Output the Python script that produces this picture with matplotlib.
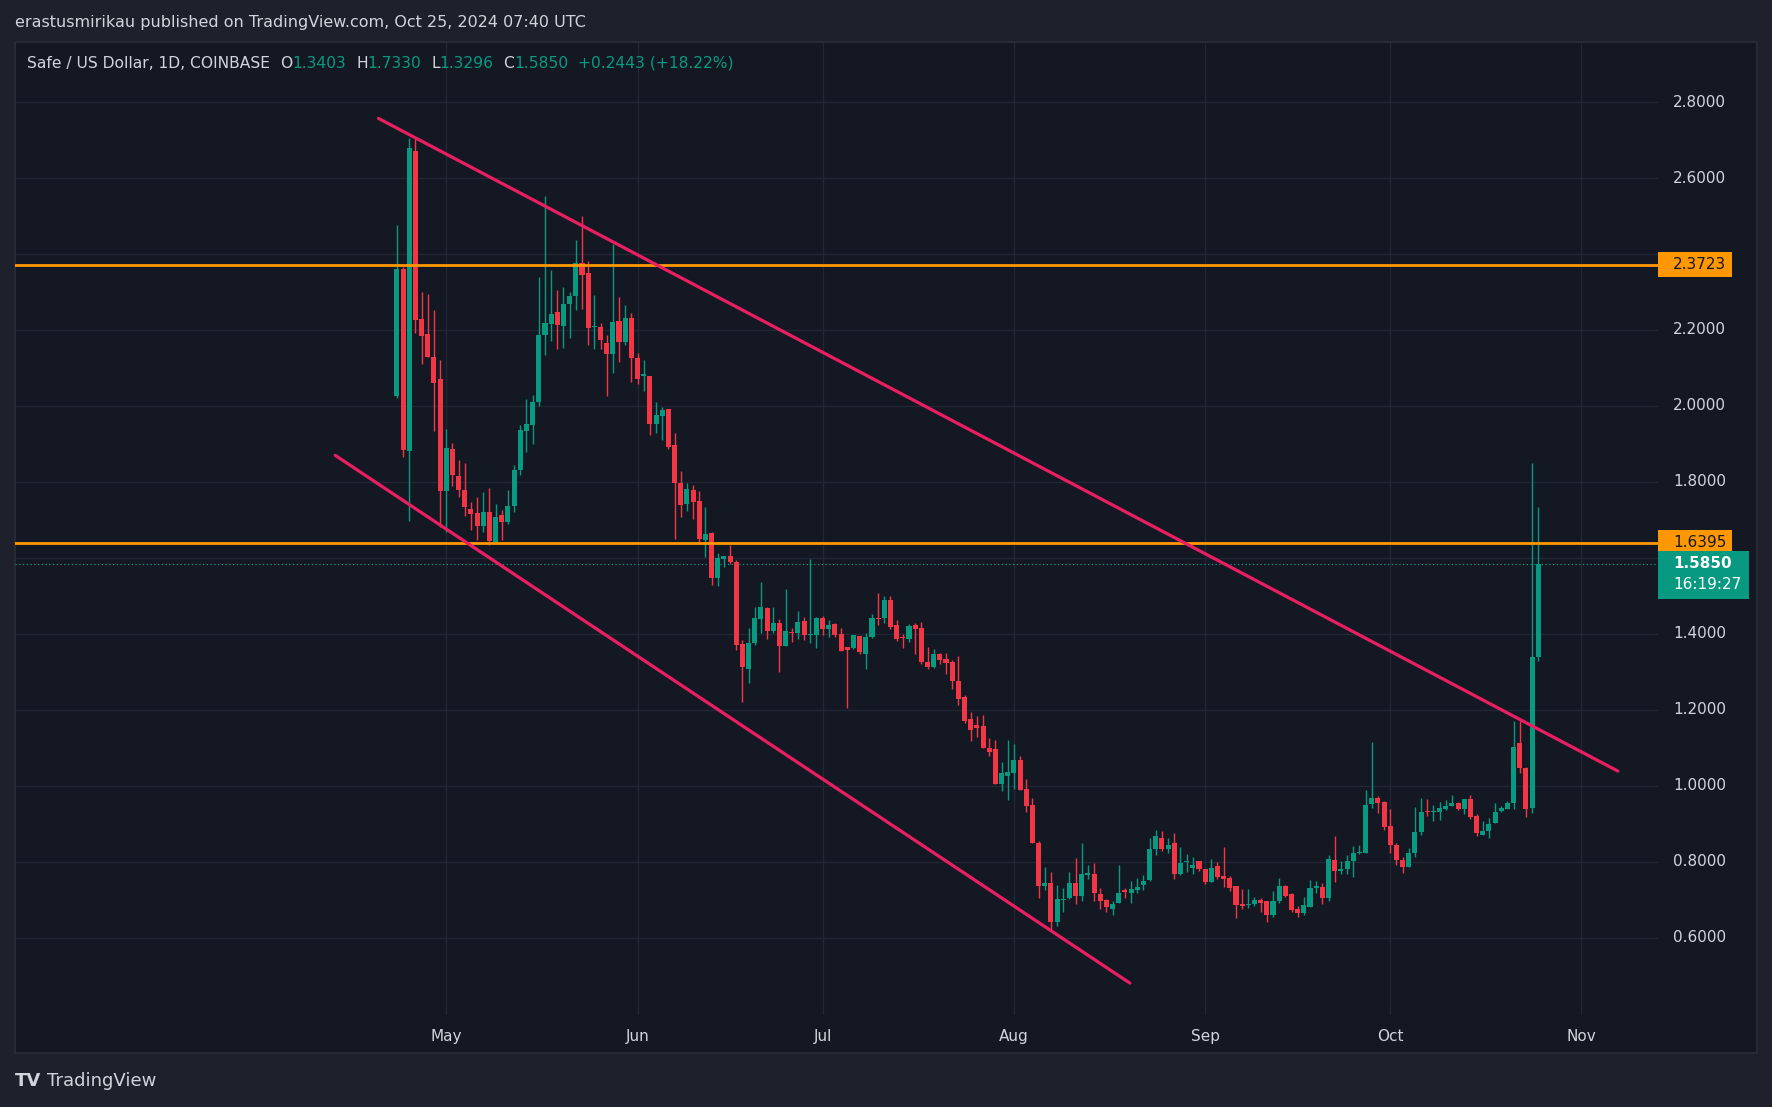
import matplotlib
matplotlib.use("Agg")
import matplotlib.pyplot as plt
import matplotlib.dates as mdates
from matplotlib.patches import Rectangle
import numpy as np
import pandas as pd

# ---------------- data ----------------
dates = pd.date_range("2024-04-23", "2024-10-25", freq="D")

opens = [2.027, 2.36, 1.882, 2.671, 2.229, 2.189, 2.13, 2.071,
         1.777, 1.887, 1.816, 1.779, 1.729, 1.718, 1.685, 1.72, 1.643, 1.713, 1.695, 1.737, 1.831, 1.935, 1.951, 2.01,
         2.187, 2.216, 2.247, 2.211, 2.268, 2.29, 2.376, 2.35, 2.207, 2.208, 2.166, 2.137, 2.223, 2.168, 2.231,
         2.125, 2.078, 2.079, 1.953, 1.974, 1.992, 1.897, 1.798, 1.743, 1.779, 1.75, 1.648, 1.666, 1.548, 1.596,
         1.605, 1.589, 1.374, 1.309, 1.376, 1.438, 1.468, 1.409, 1.429, 1.367, 1.405, 1.403, 1.433, 1.398, 1.396,
         1.442, 1.414, 1.426, 1.4, 1.366, 1.363, 1.394, 1.348, 1.392, 1.442, 1.443, 1.49, 1.424, 1.392, 1.387,
         1.424, 1.416, 1.326, 1.314, 1.347, 1.333, 1.325, 1.275, 1.234, 1.176, 1.16, 1.158, 1.101, 1.097, 1.006,
         1.027, 1.034, 1.068, 0.992, 0.95, 0.851, 0.737, 0.745, 0.642, 0.7, 0.706, 0.745, 0.71, 0.766, 0.768,
         0.715, 0.699, 0.675, 0.693, 0.725, 0.717, 0.726, 0.74, 0.753, 0.835, 0.864, 0.835, 0.849, 0.769, 0.8,
         0.785, 0.802, 0.782, 0.748, 0.789, 0.763, 0.757, 0.737, 0.687, 0.687, 0.689, 0.7, 0.696, 0.659, 0.696,
         0.736, 0.716, 0.676, 0.666, 0.68, 0.73, 0.733, 0.704, 0.805, 0.775, 0.78, 0.803, 0.824, 0.824, 0.953,
         0.968, 0.958, 0.895, 0.845, 0.805, 0.787, 0.824, 0.879, 0.934, 0.93, 0.93, 0.94, 0.946, 0.954, 0.94,
         0.966, 0.921, 0.872, 0.882, 0.903, 0.935, 0.938, 0.954, 1.113, 1.048, 0.942, 1.3403]
highs = [2.476, 2.367, 2.705, 2.703, 2.299, 2.295, 2.253, 2.121,
         1.939, 1.902, 1.858, 1.85, 1.746, 1.76, 1.773, 1.784, 1.742, 1.726, 1.779, 1.845, 1.949, 2.019, 2.028, 2.339,
         2.552, 2.358, 2.304, 2.313, 2.3, 2.436, 2.5, 2.381, 2.291, 2.218, 2.188, 2.427, 2.286, 2.265, 2.245,
         2.139, 2.12, 2.079, 2.01, 1.997, 1.992, 1.93, 1.829, 1.797, 1.792, 1.776, 1.734, 1.668, 1.613, 1.605,
         1.633, 1.595, 1.384, 1.416, 1.471, 1.537, 1.471, 1.471, 1.438, 1.518, 1.416, 1.46, 1.445, 1.597, 1.445,
         1.447, 1.437, 1.429, 1.416, 1.366, 1.397, 1.394, 1.403, 1.453, 1.508, 1.5, 1.5, 1.437, 1.4, 1.426,
         1.43, 1.432, 1.366, 1.36, 1.349, 1.349, 1.332, 1.342, 1.239, 1.195, 1.184, 1.187, 1.126, 1.121, 1.063,
         1.121, 1.11, 1.079, 1.018, 0.968, 0.855, 0.787, 0.774, 0.738, 0.732, 0.773, 0.81, 0.849, 0.791, 0.796,
         0.732, 0.702, 0.697, 0.792, 0.73, 0.749, 0.758, 0.765, 0.864, 0.885, 0.88, 0.864, 0.875, 0.839, 0.82,
         0.814, 0.802, 0.782, 0.807, 0.8, 0.839, 0.763, 0.737, 0.729, 0.729, 0.707, 0.705, 0.696, 0.724, 0.758,
         0.738, 0.718, 0.684, 0.708, 0.753, 0.75, 0.745, 0.818, 0.868, 0.803, 0.818, 0.842, 0.845, 0.989, 1.116,
         0.974, 0.96, 0.94, 0.85, 0.813, 0.837, 0.945, 0.968, 0.966, 0.949, 0.958, 0.962, 0.976, 0.958, 0.966,
         0.975, 0.925, 0.908, 0.916, 0.954, 0.947, 0.961, 1.171, 1.17, 1.05, 1.85, 1.7330]
lows = [2.02, 1.865, 1.696, 2.192, 2.11, 2.128, 1.935, 1.681,
        1.667, 1.79, 1.76, 1.711, 1.674, 1.646, 1.667, 1.635, 1.638, 1.646, 1.69, 1.72, 1.818, 1.879, 1.901, 2.0,
        2.135, 2.172, 2.151, 2.152, 2.18, 2.253, 2.256, 2.161, 2.151, 2.151, 2.025, 2.087, 2.117, 2.16, 2.064,
        2.059, 2.04, 1.924, 1.93, 1.911, 1.888, 1.651, 1.708, 1.724, 1.703, 1.64, 1.603, 1.53, 1.526, 1.577,
        1.583, 1.359, 1.222, 1.272, 1.37, 1.403, 1.387, 1.403, 1.301, 1.367, 1.38, 1.387, 1.384, 1.376, 1.363,
        1.398, 1.393, 1.393, 1.356, 1.204, 1.36, 1.348, 1.309, 1.389, 1.424, 1.43, 1.412, 1.382, 1.364, 1.38,
        1.346, 1.321, 1.308, 1.311, 1.321, 1.295, 1.256, 1.213, 1.165, 1.119, 1.13, 1.101, 1.08, 1.006, 0.987,
        0.963, 0.992, 0.988, 0.932, 0.851, 0.706, 0.725, 0.621, 0.63, 0.668, 0.702, 0.69, 0.696, 0.754, 0.696,
        0.677, 0.667, 0.661, 0.693, 0.706, 0.693, 0.718, 0.726, 0.75, 0.818, 0.829, 0.824, 0.754, 0.766, 0.774,
        0.769, 0.776, 0.741, 0.748, 0.756, 0.735, 0.724, 0.653, 0.676, 0.679, 0.685, 0.669, 0.643, 0.654, 0.692,
        0.707, 0.669, 0.654, 0.66, 0.68, 0.719, 0.69, 0.696, 0.748, 0.767, 0.767, 0.761, 0.821, 0.824, 0.942,
        0.929, 0.885, 0.824, 0.792, 0.771, 0.787, 0.813, 0.87, 0.92, 0.907, 0.91, 0.936, 0.946, 0.936, 0.927,
        0.914, 0.868, 0.872, 0.864, 0.903, 0.93, 0.938, 0.938, 1.035, 0.917, 0.929, 1.3296]
closes = [2.36, 1.885, 2.68, 2.227, 2.185, 2.13, 2.061, 1.777,
          1.889, 1.817, 1.779, 1.735, 1.716, 1.685, 1.72, 1.645, 1.707, 1.695, 1.737, 1.831, 1.938, 1.953, 2.01, 2.187,
          2.218, 2.242, 2.214, 2.268, 2.289, 2.376, 2.345, 2.206, 2.21, 2.174, 2.137, 2.221, 2.168, 2.231, 2.127,
          2.072, 2.083, 1.953, 1.976, 1.99, 1.893, 1.798, 1.74, 1.782, 1.746, 1.651, 1.663, 1.546, 1.6, 1.605,
          1.589, 1.372, 1.314, 1.375, 1.442, 1.471, 1.409, 1.429, 1.367, 1.408, 1.402, 1.432, 1.396, 1.4, 1.442,
          1.414, 1.424, 1.398, 1.356, 1.359, 1.397, 1.353, 1.392, 1.442, 1.44, 1.49, 1.419, 1.387, 1.39, 1.421,
          1.413, 1.325, 1.314, 1.347, 1.332, 1.324, 1.275, 1.23, 1.172, 1.146, 1.153, 1.101, 1.088, 1.006, 1.034,
          1.037, 1.068, 0.988, 0.948, 0.851, 0.737, 0.745, 0.643, 0.703, 0.702, 0.745, 0.71, 0.768, 0.77, 0.717,
          0.697, 0.68, 0.688, 0.718, 0.722, 0.728, 0.734, 0.75, 0.833, 0.868, 0.833, 0.844, 0.769, 0.797, 0.802,
          0.792, 0.782, 0.748, 0.783, 0.761, 0.756, 0.73, 0.686, 0.685, 0.69, 0.7, 0.692, 0.66, 0.697, 0.736,
          0.711, 0.674, 0.666, 0.687, 0.732, 0.737, 0.704, 0.808, 0.775, 0.782, 0.803, 0.824, 0.826, 0.95, 0.968,
          0.955, 0.892, 0.845, 0.805, 0.787, 0.824, 0.879, 0.932, 0.93, 0.932, 0.942, 0.947, 0.954, 0.94, 0.966,
          0.917, 0.875, 0.882, 0.9, 0.932, 0.942, 0.955, 1.103, 1.048, 0.938, 1.34, 1.5850]

# horizontal levels and channel lines (days relative to 2024-05-01, price)
levels = [2.3723, 1.6395]
last_price = 1.5850
countdown = "16:19:27"
upper_x = [-11.0, 189.9]
upper_y = [2.757, 1.039]
lower_x = [-18.0, 110.8]
lower_y = [1.870, 0.481]
price_ticks = [0.6, 0.8, 1.0, 1.2, 1.4, 1.6, 1.8, 2.0, 2.2, 2.4, 2.6, 2.8]
month_ticks = ["2024-05-01", "2024-06-01", "2024-07-01", "2024-08-01",
               "2024-09-01", "2024-10-01", "2024-11-01"]

# ---------------- style ----------------
W, H = 1772, 1107
OUTER = "#1e212b"
CHART = "#141823"
GRID = "#232733"
TXT = "#d1d4dc"
UP = "#089981"
DN = "#f23645"
ORANGE = "#ff9800"
PINK = "#e91e63"

def fx(px):
    return px / W

def fy(py):
    return 1 - py / H

fig = plt.figure(figsize=(W / 100, H / 100), dpi=100, facecolor=OUTER)

# chart panel (behind everything)
fig.patches.append(Rectangle((fx(15), fy(1053)), (1757 - 15) / W, (1053 - 42) / H,
                             transform=fig.transFigure, facecolor=CHART,
                             edgecolor="#2a2e39", linewidth=1.2, zorder=-10))

ax_l, ax_r, ax_t, ax_b = 15, 1658, 42, 1015
ax = fig.add_axes([fx(ax_l), fy(ax_b), (ax_r - ax_l) / W, (ax_b - ax_t) / H])
ax.set_facecolor("none")

x = mdates.date2num(dates)
d0 = mdates.date2num(pd.Timestamp("2024-05-01"))
ylim = (0.397, 2.958)
ax.set_xlim(d0 - 69.9, d0 + 196.4)
ax.set_ylim(*ylim)

o = np.array(opens); h = np.array(highs); l = np.array(lows); c = np.array(closes)
cols = np.where(c >= o, UP, DN)
ax.vlines(x, l, h, colors=cols, linewidth=1.0, zorder=3)
bot = np.minimum(o, c)
hgt = np.maximum(np.abs(c - o), 0.003)
ax.bar(x, hgt, bottom=bot, width=0.82, color=cols, linewidth=0, zorder=4)

# grid
for p in price_ticks:
    ax.axhline(p, color=GRID, linewidth=1.0, zorder=1)
mt = mdates.date2num(pd.to_datetime(month_ticks))
for m in mt:
    ax.axvline(m, color=GRID, linewidth=1.0, zorder=1)
ax.set_xticks(mt)
ax.set_xticklabels([pd.Timestamp(m).strftime("%b") for m in month_ticks])
ax.tick_params(axis="x", length=0, pad=10, labelsize=11, labelcolor=TXT)
ax.set_yticks([])
for s in ax.spines.values():
    s.set_visible(False)

# levels
for lv in levels:
    ax.axhline(lv, color=ORANGE, linewidth=2.0, zorder=5)
ax.axhline(last_price, color=UP, linewidth=0.9, linestyle=(0, (1, 2)), zorder=2)

# channel lines
ax.plot(d0 + np.array(upper_x), upper_y, color=PINK, linewidth=2.3,
        solid_capstyle="round", zorder=6)
ax.plot(d0 + np.array(lower_x), lower_y, color=PINK, linewidth=2.3,
        solid_capstyle="round", zorder=6)

# price scale
sax = fig.add_axes([fx(ax_r), fy(ax_b), (1757 - ax_r) / W, (ax_b - ax_t) / H])
sax.set_xlim(0, 1)
sax.set_ylim(*ylim)
sax.axis("off")
lab_x = (1673 - ax_r) / (1757 - ax_r)
px_price = (ylim[1] - ylim[0]) / (ax_b - ax_t)
for p in price_ticks:
    if any(abs(p - lv) < 0.04 for lv in levels):
        continue
    sax.text(lab_x, p, f"{p:.4f}", ha="left", va="center", fontsize=11,
             color=TXT, zorder=1)
box_h = 25 * px_price
for lv in levels:
    sax.add_patch(Rectangle((0, lv - box_h / 2), 74 / 99, box_h, facecolor=ORANGE,
                            edgecolor="none", zorder=2))
    sax.text(lab_x, lv, f"{lv:.4f}", ha="left", va="center", fontsize=11,
             color="#131722", zorder=3)
top = last_price + 13 * px_price
bottom = last_price - 35 * px_price
sax.add_patch(Rectangle((0, bottom), 91 / 99, top - bottom, facecolor=UP,
                        edgecolor="none", zorder=2))
sax.text(lab_x, last_price, f"{last_price:.4f}", ha="left", va="center",
         fontsize=11, color="white", fontweight="bold", zorder=3)
sax.text(lab_x, last_price - 21 * px_price, countdown, ha="left", va="center",
         fontsize=11, color="white", zorder=3)

# header texts
hax = fig.add_axes([0, 0, 1, 1], zorder=5)
hax.axis("off")
hax.set_xlim(0, 1); hax.set_ylim(0, 1)
hax.text(fx(15), fy(23), "erastusmirikau published on TradingView.com, Oct 25, 2024 07:40 UTC",
         ha="left", va="center", fontsize=11.5, color=TXT)
segs = [("Safe / US Dollar, 1D, COINBASE", TXT, 0),
        ("O", TXT, 7.5), ("1.3403", UP, 0),
        ("H", TXT, 7), ("1.7330", UP, 0),
        ("L", TXT, 7), ("1.3296", UP, 0),
        ("C", TXT, 7), ("1.5850", UP, 0),
        ("+0.2443 (+18.22%)", UP, 7)]
prev = hax.text(fx(27), fy(63), segs[0][0], ha="left", va="center",
                fontsize=11.2, color=segs[0][1])
for s, col, gap in segs[1:]:
    prev = hax.annotate(s, xy=(1, 0.5), xycoords=prev, xytext=(gap, 0),
                        textcoords="offset points", ha="left", va="center",
                        fontsize=11.2, color=col)

# footer logo
hax.text(fx(15), fy(1081), "TV", ha="left", va="center", fontsize=13,
         fontweight="bold", color=TXT)
hax.text(fx(47), fy(1081), "TradingView", ha="left", va="center", fontsize=13,
         color=TXT)

fig.savefig("out.png", dpi=100, facecolor=OUTER)
